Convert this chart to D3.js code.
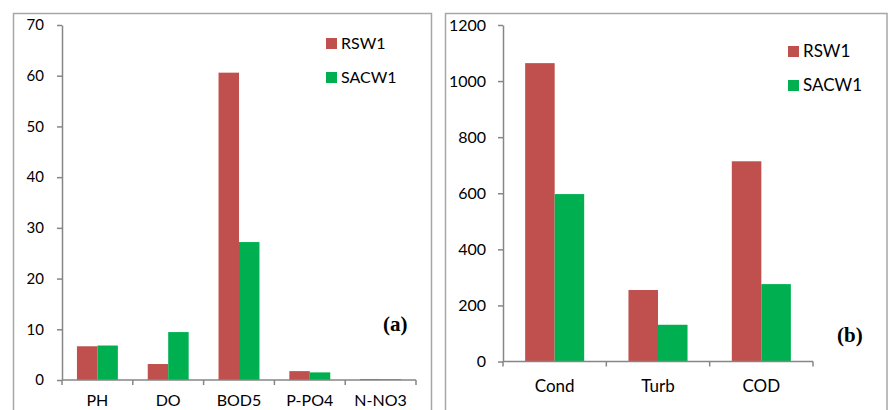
<!DOCTYPE html>
<html><head><meta charset="utf-8">
<script src="https://cdn.jsdelivr.net/npm/d3@7"></script>
<style>body{margin:0;background:#fff}svg{display:block}</style>
</head><body>
<svg id="c" width="888" height="410"></svg>
<script>
const series = ["RSW1", "SACW1"];
const colors = ["#C0504D", "#00B050"];

const catsA = ["PH", "DO", "BOD5", "P-PO4", "N-NO3"];
const rswA = [6.65, 3.15, 60.6, 1.75, 0.2];
const sacwA = [6.8, 9.45, 27.2, 1.5, 0.15];
const ticksA = [0, 10, 20, 30, 40, 50, 60, 70];

const catsB = ["Cond", "Turb", "COD"];
const rswB = [1064, 255, 714];
const sacwB = [597, 131, 276];
const ticksB = [0, 200, 400, 600, 800, 1000, 1200];

const svg = d3.select("#c");
const font = "Lato, 'Open Sans', sans-serif";
const axisColor = "#868686";

// panel borders
svg.append("rect").attr("x", 13.5).attr("y", 13.5).attr("width", 418).attr("height", 420)
  .attr("fill", "none").attr("stroke", "#a6a6a6").attr("stroke-width", 1.5);
svg.append("rect").attr("x", 445.5).attr("y", 13.5).attr("width", 441.5).attr("height", 420)
  .attr("fill", "none").attr("stroke", "#a6a6a6").attr("stroke-width", 1.5);

function panel(o) {
  const g = svg.append("g");
  const x = d3.scaleBand().domain(o.cats).range([o.x0, o.x1]).padding(0);
  const y = d3.scaleLinear().domain([0, o.ymax]).range([o.y0, o.y1]);
  const x1 = d3.scaleBand().domain(series).range([0, x.bandwidth()]).paddingInner(0).paddingOuter(o.po);
  const rows = o.cats.map((c, i) => ({cat: c, vals: [o.r[i], o.s[i]]}));

  // bars
  rows.forEach(r => {
    series.forEach((s, j) => {
      g.append("rect")
        .attr("x", x(r.cat) + x1(s))
        .attr("y", y(r.vals[j]))
        .attr("width", x1.bandwidth())
        .attr("height", y(0) - y(r.vals[j]))
        .attr("fill", colors[j]);
    });
  });

  // y axis
  const ya = g.append("g").attr("transform", `translate(${o.x0},0)`)
    .call(d3.axisLeft(y).tickValues(o.ticks).tickFormat(d3.format("d")).tickSize(5).tickPadding(o.tp).tickSizeOuter(0));
  ya.select(".domain").attr("stroke", axisColor).attr("stroke-width", 1.5);
  ya.selectAll(".tick line").attr("stroke", axisColor).attr("stroke-width", 1.5);
  ya.selectAll("text").attr("font-family", font).attr("font-size", o.fs).attr("fill", "#000");

  // x axis
  const xa = g.append("g").attr("transform", `translate(0,${o.y0})`);
  xa.append("line").attr("x1", o.x0).attr("x2", o.x1).attr("y1", 0).attr("y2", 0)
    .attr("stroke", axisColor).attr("stroke-width", 1.5);
  const bounds = o.cats.map(c => x(c)).concat([o.x1]);
  xa.selectAll("line.t").data(bounds).enter().append("line").attr("class", "t")
    .attr("x1", d => d).attr("x2", d => d).attr("y1", 0).attr("y2", 5)
    .attr("stroke", axisColor).attr("stroke-width", 1.5);
  xa.selectAll("text").data(o.cats).enter().append("text")
    .attr("x", d => x(d) + x.bandwidth() / 2).attr("y", o.cy)
    .attr("text-anchor", "middle").attr("font-family", font).attr("font-size", o.fs2)
    .text(d => d);

  // legend
  series.forEach((s, j) => {
    g.append("rect").attr("x", o.lx).attr("y", o.ly[j] - 11).attr("width", 11).attr("height", 11)
      .attr("fill", colors[j]);
    g.append("text").attr("x", o.lx + 15).attr("y", o.ly[j]).attr("font-family", font)
      .attr("font-size", o.fs2).text(s);
  });

  g.append("text").attr("x", o.lab[0]).attr("y", o.lab[1])
    .attr("font-family", "'Liberation Serif', 'Times New Roman', serif")
    .attr("font-weight", "bold").attr("font-size", 21).text(o.label);
}

panel({cats: catsA, r: rswA, s: sacwA, ticks: ticksA, ymax: 70,
  x0: 62, x1: 416, y0: 380, y1: 25, po: 0.73, tp: 13, fs: 15, fs2: 16, cy: 26,
  lx: 326, ly: [49, 83], label: "(a)", lab: [383, 331]});

panel({cats: catsB, r: rswB, s: sacwB, ticks: ticksB, ymax: 1200,
  x0: 503, x1: 813, y0: 361.5, y1: 25, po: 0.75, tp: 12, fs: 16, fs2: 17, cy: 30,
  lx: 788, ly: [57, 91], label: "(b)", lab: [837, 342]});
</script>
</body></html>
